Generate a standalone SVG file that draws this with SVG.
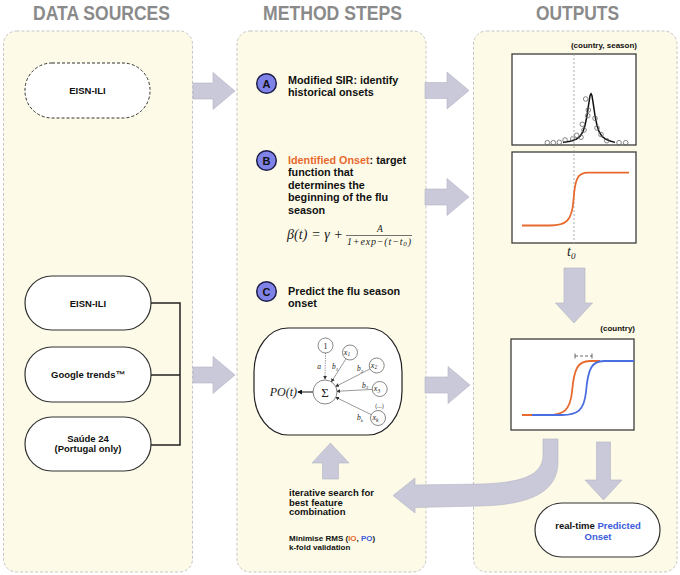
<svg xmlns="http://www.w3.org/2000/svg" width="680" height="575" viewBox="0 0 680 575">
<defs>
<style>
.panel{fill:#fdfbe7;stroke:#c6c6c6;stroke-width:1;stroke-dasharray:3 2}
.hdr{font-family:"Liberation Sans",Arial,sans-serif;font-weight:bold;font-size:21px;fill:#8a8a8a}
.node{fill:#fff;stroke:#333;stroke-width:1.2}
.t{font-family:"Liberation Sans",Arial,sans-serif;font-weight:bold;fill:#111}
.big{fill:#c9c9d9;stroke:#b3b3c6;stroke-width:0.6}
.step{fill:#7f83e8;stroke:#1d1d4a;stroke-width:1.5}
.plot{fill:#fff;stroke:#3c3c3c;stroke-width:1.3}
.m{font-family:"Liberation Serif","Times New Roman",serif;font-style:italic;fill:#222}
.or{fill:#e8692e}
.bl{fill:#3b5bdb}
.nn{fill:#fff;stroke:#555;stroke-width:0.7}
.pt{fill:none;stroke:#666;stroke-width:0.8}
</style>
<marker id="ah" viewBox="0 0 6 6" refX="5" refY="3" markerUnits="userSpaceOnUse" markerWidth="4" markerHeight="4" orient="auto"><path d="M0,0 L6,3 L0,6 Z" fill="#333"/></marker>
<marker id="ah2" viewBox="0 0 6 6" refX="5" refY="3" markerUnits="userSpaceOnUse" markerWidth="5" markerHeight="5" orient="auto"><path d="M0,0 L6,3 L0,6 Z" fill="#111"/></marker>
</defs>

<!-- panels -->
<g id="panels">
<rect class="panel" x="3.5" y="31" width="189" height="541" rx="13"/>
<rect class="panel" x="237" y="31" width="189" height="541" rx="13"/>
<rect class="panel" x="473.5" y="31" width="203.5" height="541" rx="13"/>
<text class="hdr" x="33" y="19.5" textLength="137" lengthAdjust="spacingAndGlyphs">DATA SOURCES</text>
<text class="hdr" x="263" y="19.5" textLength="139" lengthAdjust="spacingAndGlyphs">METHOD STEPS</text>
<text class="hdr" x="536" y="19.5" textLength="83" lengthAdjust="spacingAndGlyphs">OUTPUTS</text>
</g>

<!-- data source nodes -->
<g id="src-eisn-hist">
<rect x="25" y="63" width="125" height="55" rx="27" fill="#fff" stroke="#333" stroke-width="1" stroke-dasharray="3 2"/>
<text class="t" x="87.5" y="93.5" font-size="9.5" text-anchor="middle">EISN-ILI</text>
</g>
<g id="src-eisn">
<rect class="node" x="25" y="276" width="126" height="54" rx="27"/>
<text class="t" x="88" y="306.5" font-size="9.5" text-anchor="middle">EISN-ILI</text>
</g>
<g id="src-google">
<rect class="node" x="25" y="347" width="126" height="55" rx="27"/>
<text class="t" x="88" y="378" font-size="9.5" text-anchor="middle">Google trends™</text>
</g>
<g id="src-saude">
<rect class="node" x="25" y="417" width="126" height="54" rx="27"/>
<text class="t" x="88" y="441.5" font-size="9.5" text-anchor="middle">Saúde 24</text>
<text class="t" x="88" y="452" font-size="9.5" text-anchor="middle">(Portugal only)</text>
</g>

<!-- method steps -->
<g id="step-a">
<circle class="step" cx="266.5" cy="83.5" r="9.8"/>
<text class="t" x="266.5" y="87.5" font-size="11" text-anchor="middle">A</text>
<text class="t" x="288" y="83.5" font-size="10.8">Modified SIR: identify</text>
<text class="t" x="288" y="96" font-size="10.8">historical onsets</text>
</g>
<g id="step-b">
<circle class="step" cx="266.5" cy="160.5" r="9.8"/>
<text class="t" x="266.5" y="164.5" font-size="11" text-anchor="middle">B</text>
<text class="t" x="288" y="163.5" font-size="10.8"><tspan class="or">Identified Onset</tspan>: target</text>
<text class="t" x="288" y="176" font-size="10.8">function that</text>
<text class="t" x="288" y="188.5" font-size="10.8">determines the</text>
<text class="t" x="288" y="201" font-size="10.8">beginning of the flu</text>
<text class="t" x="288" y="213.5" font-size="10.8">season</text>
<text class="m" x="287" y="239" font-size="14" textLength="56" lengthAdjust="spacing">β(<tspan>t</tspan>) = γ +</text>
<text class="m" x="380" y="232" font-size="9.5" text-anchor="middle">A</text>
<line x1="346" y1="235.5" x2="412" y2="235.5" stroke="#333" stroke-width="0.7"/>
<text class="m" x="347" y="244.5" font-size="10" textLength="64" lengthAdjust="spacing">1+exp−(t−t<tspan font-size="7" dy="1.5">0</tspan><tspan dy="-1.5">)</tspan></text>
</g>
<g id="step-c">
<circle class="step" cx="266.5" cy="291.5" r="9.8"/>
<text class="t" x="266.5" y="295.5" font-size="11" text-anchor="middle">C</text>
<text class="t" x="288" y="295" font-size="10.8">Predict the flu season</text>
<text class="t" x="288" y="307" font-size="10.8">onset</text>
</g>

<g id="nn-model">
<rect x="254" y="328" width="148" height="107" rx="34" ry="44" fill="#fff" stroke="#222" stroke-width="1.2"/>
<line x1="325.5" y1="353" x2="325" y2="379" stroke="#555" stroke-width="0.7" stroke-dasharray="1.2 1.2" marker-end="url(#ah)"/>
<line x1="346" y1="358.8" x2="331.4" y2="381.8" stroke="#555" stroke-width="0.6" marker-end="url(#ah)"/>
<line x1="370" y1="368.9" x2="335.7" y2="386.5" stroke="#555" stroke-width="0.6" marker-end="url(#ah)"/>
<line x1="372.2" y1="389.4" x2="337" y2="391.3" stroke="#555" stroke-width="0.6" marker-end="url(#ah)"/>
<line x1="371.3" y1="414.7" x2="335.8" y2="397.3" stroke="#555" stroke-width="0.6" marker-end="url(#ah)"/>
<line x1="313" y1="392" x2="298" y2="392" stroke="#111" stroke-width="1" marker-end="url(#ah2)"/>
<circle class="nn" cx="325.5" cy="345.5" r="7.5"/>
<circle class="nn" cx="350" cy="352.5" r="7.5"/>
<circle class="nn" cx="376.7" cy="365.5" r="7.5"/>
<circle class="nn" cx="379.7" cy="389" r="7.5"/>
<circle class="nn" cx="378" cy="418" r="7.5"/>
<circle class="nn" cx="325" cy="392" r="12"/>
<text x="325.5" y="348.5" font-family="Liberation Serif,serif" font-size="8" text-anchor="middle" fill="#222">1</text>
<text class="m" x="347" y="354.5" font-size="8" text-anchor="middle">x<tspan font-size="5.5" dy="1.5">1</tspan></text>
<text class="m" x="374" y="367.5" font-size="8" text-anchor="middle">x<tspan font-size="5.5" dy="1.5">2</tspan></text>
<text class="m" x="377" y="391" font-size="8" text-anchor="middle">x<tspan font-size="5.5" dy="1.5">3</tspan></text>
<text class="m" x="375.5" y="420" font-size="8" text-anchor="middle">x<tspan font-size="5.5" dy="1.5">k</tspan></text>
<text x="325" y="397" font-family="Liberation Serif,serif" font-size="13" text-anchor="middle" fill="#222">Σ</text>
<text class="m" x="297" y="395.5" font-size="12" text-anchor="end">PO(t)</text>
<text class="m" x="319" y="369" font-size="7.5" text-anchor="middle">a</text>
<text class="m" x="335" y="369" font-size="7.5" text-anchor="middle">b<tspan font-size="5" dy="1.5">1</tspan></text>
<text class="m" x="360" y="371" font-size="7.5" text-anchor="middle">b<tspan font-size="5" dy="1.5">2</tspan></text>
<text class="m" x="365" y="387.5" font-size="7.5" text-anchor="middle">b<tspan font-size="5" dy="1.5">3</tspan></text>
<text class="m" x="360" y="420" font-size="7.5" text-anchor="middle">b<tspan font-size="5" dy="1.5">k</tspan></text>
<text x="379.5" y="407.5" font-family="Liberation Serif,serif" font-size="6" text-anchor="middle" fill="#333">(...)</text>
</g>

<g id="search-text">
<text class="t" x="289" y="496" font-size="9.5">iterative search for</text>
<text class="t" x="289" y="505.5" font-size="9.5">best feature</text>
<text class="t" x="289" y="515" font-size="9.5">combination</text>
<text class="t" x="289" y="541" font-size="8">Minimise RMS (<tspan class="or">IO</tspan>, <tspan class="bl">PO</tspan>)</text>
<text class="t" x="289" y="550" font-size="8">k-fold validation</text>
</g>

<!-- outputs -->
<g id="out-season">
<text class="t" x="637" y="48" font-size="8" text-anchor="end">(country, season)</text>
<rect class="plot" x="512" y="54" width="124" height="91"/>
<rect class="plot" x="512" y="152" width="124" height="91"/>
<line x1="574" y1="54" x2="574" y2="243" stroke="#9a9a9a" stroke-width="0.8" stroke-dasharray="2 2"/>
<polyline fill="none" stroke="#111" stroke-width="1.5" stroke-linejoin="round" points="563,142.4 570,141.3 576,139.4 580,136.3 583,131.5 585,125.5 587,115.6 588.5,105.3 590,95.8 591,93.5 592,95.8 593.5,105.3 595,115.6 597,125.5 599,131.5 602,136.3 606,139.4 611,141.3 615,142.4"/>
<g class="pt">
<circle cx="547.3" cy="142.7" r="2.3"/><circle cx="553.3" cy="142.7" r="2.3"/><circle cx="559.3" cy="142.3" r="2.3"/>
<circle cx="565" cy="140" r="2.3"/><circle cx="572.7" cy="139" r="2.3"/><circle cx="576.7" cy="135.3" r="2.3"/>
<circle cx="581" cy="137.3" r="2.3"/><circle cx="584" cy="130" r="2.3"/><circle cx="582.3" cy="124.3" r="2.3"/>
<circle cx="587.7" cy="115.7" r="2.3"/><circle cx="588.3" cy="110" r="2.3"/><circle cx="585.7" cy="99" r="2.3"/>
<circle cx="595" cy="118.3" r="2.3"/><circle cx="597" cy="128" r="2.3"/><circle cx="601" cy="134.5" r="2.3"/>
<circle cx="606.7" cy="140.7" r="2.3"/><circle cx="619" cy="142.7" r="2.3"/><circle cx="625.7" cy="142.7" r="2.3"/>
</g>
<path d="M522,225.5 H550 C566,225.5 572,221 573.5,200 C575,178 578,172.7 588,172.7 H629" fill="none" stroke="#e8692e" stroke-width="1.8"/>
<text class="m" x="567" y="256" font-size="14">t<tspan font-size="9" dy="2.5">0</tspan></text>
</g>

<g id="out-country">
<text class="t" x="635" y="331" font-size="8" text-anchor="end">(country)</text>
<rect class="plot" x="511" y="339" width="123" height="91"/>
<path d="M522,415 H548 C563,415 570,411 572,392 C574,368 578,361 590,361 H600" fill="none" stroke="#e8692e" stroke-width="1.8"/>
<path d="M532,415 H562 C577,415 584,411 586,392 C588,368 592,361 604,361 H634" fill="none" stroke="#4a6ee0" stroke-width="1.8"/>
<path d="M575,356 H592" fill="none" stroke="#444" stroke-width="0.8" stroke-dasharray="3 2"/>
<path d="M575,353.5 V358.5 M592,353.5 V358.5" fill="none" stroke="#444" stroke-width="0.8"/>
</g>

<g id="out-realtime">
<rect class="node" x="535" y="503" width="125" height="54" rx="27"/>
<text class="t" x="598" y="529" font-size="9.5" text-anchor="middle">real-time <tspan class="bl">Predicted</tspan></text>
<text class="t bl" x="598" y="539.5" font-size="9.5" text-anchor="middle">Onset</text>
</g>

<!-- connectors -->
<g id="connectors">
<path d="M151,303 H180 V445 H151 M151,375 H180" fill="none" stroke="#222" stroke-width="1.5"/>
<path class="big" d="M193,83 H213 V72.5 L235,91 L213,109.5 V99 H193 Z"/>
<path class="big" d="M193,367 H213 V356.5 L235,375 L213,393.5 V383 H193 Z"/>
<path class="big" d="M425,82.5 H447 V72 L469,90.5 L447,109 V98.5 H425 Z"/>
<path class="big" d="M425,189 H447 V178.5 L469,197 L447,215.5 V205 H425 Z"/>
<path class="big" d="M425,377 H448 V366.5 L470,385 L448,403.5 V393 H425 Z"/>
<path class="big" d="M564,268 H585 V303 H592.5 L574,323 L555.5,303 H564 Z"/>
<path class="big" d="M322.5,479 V463 H312 L330.5,443 L349,463 H338.5 V479 Z"/>
<path class="big" d="M596.5,442 H610.5 V480 H622 L603.5,500 L585,480 H596.5 Z"/>
<path class="big" d="M543,439 H558 V462 C558,492 530,505 480,506 L415,507.5 V513 L393,495.5 L415,478 V485 L480,484 C520,483 543,476 543,455 Z"/>
</g>
</svg>
